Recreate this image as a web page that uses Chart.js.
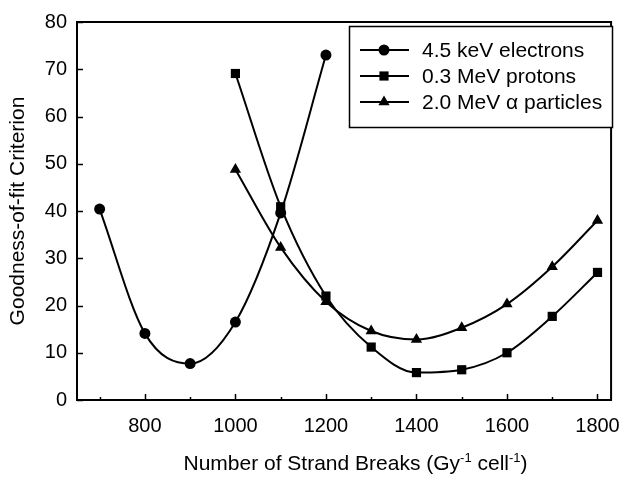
<!DOCTYPE html>
<html>
<head>
<meta charset="utf-8">
<script src="https://cdn.jsdelivr.net/npm/chart.js@4/dist/chart.umd.min.js"></script>
<style>
html,body{margin:0;padding:0;background:#fff;}
canvas{display:block;}
</style>
</head>
<body>
<canvas id="c" width="634" height="480"></canvas>
<script>
// ---- data ----
const electronX = [700, 800, 900, 1000, 1100, 1200];
const electronY = [40.4, 14.1, 7.7, 16.5, 39.6, 73.0];
const protonX = [1000, 1100, 1200, 1300, 1400, 1500, 1600, 1700, 1800];
const protonY = [69.1, 40.9, 22.0, 11.2, 5.8, 6.4, 10.0, 17.7, 27.0];
const alphaX = [1000, 1100, 1200, 1300, 1400, 1500, 1600, 1700, 1800];
const alphaY = [48.8, 32.3, 20.8, 14.6, 12.8, 15.3, 20.3, 28.2, 38.0];
const seriesLabels = ['4.5 keV electrons', '0.3 MeV protons', '2.0 MeV \u03B1 particles'];
const xTickValues = [700, 800, 900, 1000, 1100, 1200, 1300, 1400, 1500, 1600, 1700, 1800];
const xLabelValues = [800, 1000, 1200, 1400, 1600, 1800];
const yTickValues = [0, 10, 20, 30, 40, 50, 60, 70, 80];
// x title pieces: [text, isSuperscript]
const xTitleParts = [['Number of Strand Breaks (Gy', false], ['-1', true], [' cell', false], ['-1', true], [')', false]];
const yTitle = 'Goodness-of-fit Criterion';

const FONT = "'Liberation Sans', Arial, Helvetica, sans-serif";
const toPts = (xs, ys) => xs.map((x, i) => ({x: x, y: ys[i]}));

function drawMarker(ctx, style, r, x, y) {
  ctx.beginPath();
  if (style === 'circle') {
    ctx.arc(x, y, r, 0, Math.PI * 2);
  } else if (style === 'rect') {
    const s = r * Math.SQRT1_2;
    ctx.rect(x - s, y - s, 2 * s, 2 * s);
  } else {
    const w = r * Math.sqrt(3);
    ctx.moveTo(x, y - r);
    ctx.lineTo(x + w / 2, y + r / 2);
    ctx.lineTo(x - w / 2, y + r / 2);
    ctx.closePath();
  }
  ctx.fill();
}

const framePlugin = {
  id: 'frame',
  afterDraw(chart) {
    const ctx = chart.ctx;
    const a = chart.chartArea;
    const xs = chart.scales.x, ys = chart.scales.y;
    ctx.save();
    ctx.strokeStyle = '#000';
    ctx.lineWidth = 2;
    ctx.strokeRect(a.left, a.top, a.right - a.left, a.bottom - a.top);
    ctx.lineWidth = 1.5;
    ctx.beginPath();
    xTickValues.forEach(v => {
      const px = Math.round(xs.getPixelForValue(v)) + 0.5;
      const len = xLabelValues.includes(v) ? 6 : 3;
      ctx.moveTo(px, a.bottom);
      ctx.lineTo(px, a.bottom - len);
    });
    yTickValues.forEach(v => {
      const py = Math.round(ys.getPixelForValue(v)) + 0.5;
      ctx.moveTo(a.left, py);
      ctx.lineTo(a.left + 6, py);
    });
    ctx.stroke();

    // x axis title with superscripts
    const mainFont = '21px ' + FONT, supFont = '13px ' + FONT;
    let total = 0;
    xTitleParts.forEach(p => { ctx.font = p[1] ? supFont : mainFont; total += ctx.measureText(p[0]).width; });
    let tx = 355.5 - total / 2;
    const baseY = 470;
    ctx.fillStyle = '#000';
    ctx.textBaseline = 'alphabetic';
    ctx.textAlign = 'left';
    xTitleParts.forEach(p => {
      ctx.font = p[1] ? supFont : mainFont;
      ctx.fillText(p[0], tx, p[1] ? baseY - 8 : baseY);
      tx += ctx.measureText(p[0]).width;
    });

    // legend box
    const bx = 349, by = 26, bw = 263, bh = 101;
    ctx.fillStyle = '#fff';
    ctx.fillRect(bx, by, bw, bh);
    ctx.lineWidth = 1.5;
    ctx.strokeRect(bx + 0.5, by + 0.5, bw, bh);
    const rows = [50, 76, 102];
    chart.data.datasets.forEach((ds, i) => {
      const y = rows[i];
      ctx.strokeStyle = '#000';
      ctx.lineWidth = 2;
      ctx.beginPath();
      ctx.moveTo(360, y);
      ctx.lineTo(409, y);
      ctx.stroke();
      ctx.fillStyle = '#000';
      drawMarker(ctx, ds.pointStyle, ds.pointRadius, 384, y);
      ctx.font = '21px ' + FONT;
      ctx.textBaseline = 'middle';
      ctx.textAlign = 'left';
      ctx.fillText(ds.label, 422, y + 1);
    });
    ctx.restore();
  }
};

const common = {
  borderColor: '#000',
  backgroundColor: '#000',
  pointBackgroundColor: '#000',
  pointBorderColor: '#000',
  borderWidth: 2,
  pointBorderWidth: 0,
  cubicInterpolationMode: 'monotone',
  fill: false
};

new Chart(document.getElementById('c'), {
  type: 'line',
  data: {
    datasets: [
      Object.assign({label: seriesLabels[0], data: toPts(electronX, electronY), pointStyle: 'circle', pointRadius: 5.5}, common),
      Object.assign({label: seriesLabels[1], data: toPts(protonX, protonY), pointStyle: 'rect', pointRadius: 6.5}, common),
      Object.assign({label: seriesLabels[2], data: toPts(alphaX, alphaY), pointStyle: 'triangle', pointRadius: 6.5}, common)
    ]
  },
  options: {
    responsive: false,
    animation: false,
    events: [],
    layout: {padding: {top: 13, right: 10, left: 0, bottom: 0}},
    plugins: {legend: {display: false}, tooltip: {enabled: false}},
    scales: {
      x: {
        type: 'linear',
        min: 650,
        max: 1830,
        grid: {display: false, drawTicks: false},
        border: {display: false},
        afterBuildTicks: s => { s.ticks = xTickValues.map(v => ({value: v})); },
        afterFit: s => { s.height = 80; },
        ticks: {
          autoSkip: false,
          maxRotation: 0,
          color: '#000',
          padding: 14,
          font: {family: FONT, size: 20},
          callback: v => xLabelValues.includes(v) ? String(v) : ''
        },
        title: {display: false, text: 'Number of Strand Breaks (Gy-1 cell-1)'}
      },
      y: {
        type: 'linear',
        min: 0,
        max: 80,
        grid: {display: false, drawTicks: false},
        border: {display: false},
        afterBuildTicks: s => { s.ticks = yTickValues.map(v => ({value: v})); },
        afterFit: s => { s.width = 77; },
        ticks: {
          color: '#000',
          padding: 10,
          font: {family: FONT, size: 20}
        },
        title: {display: true, text: yTitle, color: '#000', font: {family: FONT, size: 21}, padding: {top: 6, bottom: 0}}
      }
    }
  },
  plugins: [framePlugin]
});
</script>
</body>
</html>
